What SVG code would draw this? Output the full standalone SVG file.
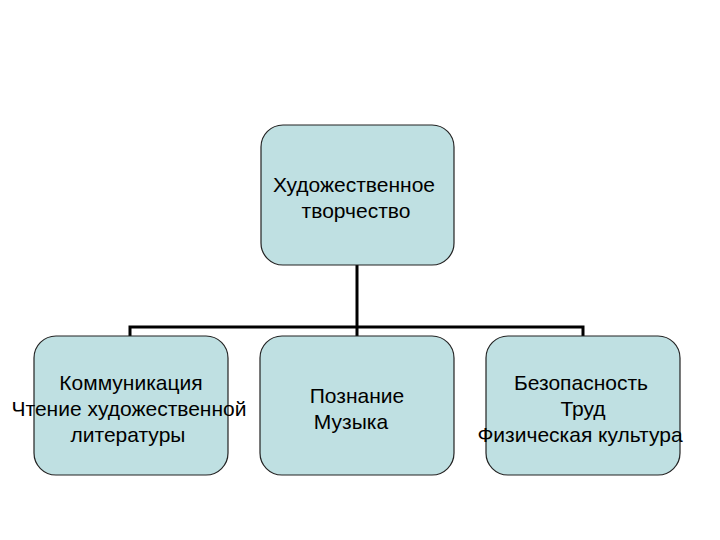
<svg xmlns="http://www.w3.org/2000/svg" width="720" height="540" viewBox="0 0 720 540">
<style>
.box{fill:#bfe0e2;stroke:#222;stroke-width:1.2}
.t{font-family:"Liberation Sans",Arial,sans-serif;font-size:21px;fill:#000;text-anchor:middle}
.c{fill:none;stroke:#000;stroke-width:3}
</style>
<rect width="720" height="540" fill="#fff"/>
<g id="connectors">
<path class="c" d="M357 265V336M130 336V327H583V336"/>
</g>
<g id="n0"><rect class="box" x="261" y="125" width="193" height="140" rx="22"/>
<text class="t" x="354" y="192">Художественное</text><text class="t" x="356" y="218">творчество</text></g>
<g id="n1"><rect class="box" x="34" y="336" width="194" height="139" rx="22"/>
<text class="t" x="131" y="390">Коммуникация</text><text class="t" x="129" y="416">Чтение художественной</text><text class="t" x="128" y="442">литературы</text></g>
<g id="n2"><rect class="box" x="260" y="336" width="194" height="139" rx="22"/>
<text class="t" x="357" y="403">Познание</text><text class="t" x="351" y="429">Музыка</text></g>
<g id="n3"><rect class="box" x="486" y="336" width="194" height="139" rx="22"/>
<text class="t" x="581" y="390">Безопасность</text><text class="t" x="583" y="416">Труд</text><text class="t" x="580" y="442">Физическая культура</text></g>
</svg>
